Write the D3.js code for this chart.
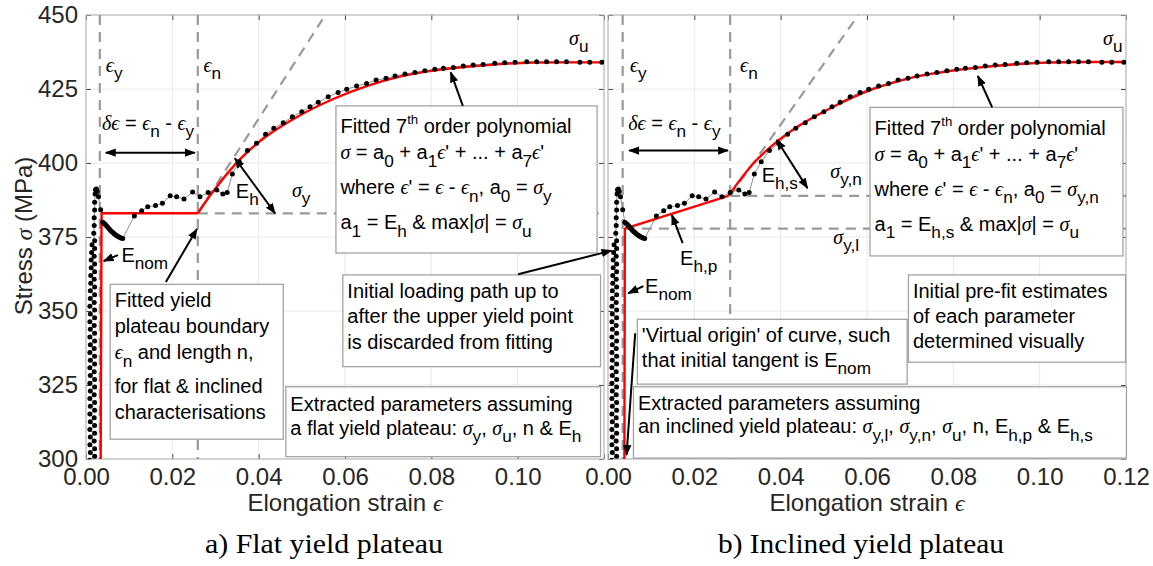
<!DOCTYPE html>
<html><head><meta charset="utf-8">
<script src="https://cdn.jsdelivr.net/npm/d3@7"></script>
<style>
body{margin:0;background:#fff}
svg{display:block}
</style></head><body>
<svg id="chart" width="1153" height="566" font-family='"Liberation Sans",Arial,sans-serif'></svg>
<script>
// ---------- data ----------
const yTicks = [300, 325, 350, 375, 400, 425, 450];
const xTicks = [0, 0.02, 0.04, 0.06, 0.08, 0.10, 0.12];

// initial elastic loading (extensometer readings)
const loadStrain = [0.0009,0.0020,0.0010,0.0020,0.0009,0.0019,0.0010,0.0020,0.0009,0.0020,
  0.0010,0.0019,0.0009,0.0020,0.0010,0.0020,0.0009,0.0019,0.0010,0.0020,
  0.0009,0.0020,0.0010,0.0019,0.0009,0.0020,0.0010,0.0020,0.0009,0.0019,
  0.0010,0.0020,0.0009,0.0020,0.0010,0.0019,0.0009,0.0020,0.0010,0.0020,
  0.0009,0.0019,0.0010,0.0020,0.0010,0.0020,0.0011,0.0019,0.0011,0.0020,
  0.0012,0.0020,0.0012,0.0019,0.0013,0.0020,0.0014,0.0020,
  0.0018,0.0019,0.0019,0.0020,0.0020];
const loadStress = [299.6,300.9,302.2,303.5,304.8,306.1,307.4,308.7,310.0,311.3,
  312.6,313.9,315.2,316.5,317.8,319.1,320.4,321.7,323.0,324.3,
  325.6,326.9,328.2,329.5,330.8,332.1,333.4,334.7,336.0,337.3,
  338.6,339.9,341.2,342.5,343.8,345.1,346.4,347.7,349.0,350.3,
  351.6,352.9,354.2,355.5,356.8,358.1,359.4,360.7,362.0,363.3,
  364.6,365.9,367.2,368.5,369.8,371.1,372.4,373.7,
  376.3,378.9,381.5,384.1,386.7];

// upper yield point, plateau and strain hardening
const testStrain = [0.0021,0.0022,0.0024,0.0026,0.0029,0.0034,0.0039,0.0042,0.0045,0.0048,
  0.0051,0.0054,0.0057,0.0060,0.0063,0.0066,0.0069,0.0072,0.0075,0.0078,
  0.0081,0.0085,0.0112,0.0129,0.0143,0.0161,0.0177,0.0195,0.0210,0.0227,
  0.0247,0.0264,0.0283,0.0303,0.0317,0.0327,0.0339,0.0355,0.0374,0.0395,
  0.0416,0.0435,0.0457,0.0478,0.0500,0.0519,0.0538,0.0561,0.0584,0.0604,
  0.0627,0.0650,0.0672,0.0695,0.0716,0.0739,0.0762,0.0785,0.0808,0.0828,
  0.0851,0.0874,0.0897,0.0920,0.0947,0.0970,0.0994,0.1021,0.1044,0.1067,
  0.1090,0.1113,0.1144,0.1167,0.1195];
const testStress = [389.5,391.0,391.2,390.4,388.6,384.2,380.0,379.6,379.2,378.7,
  378.2,377.7,377.2,376.8,376.4,376.0,375.7,375.4,375.1,374.9,
  374.7,374.5,382.1,383.9,385.2,385.6,386.4,388.9,388.6,387.8,
  390.2,388.6,390.0,390.9,389.5,390.0,396.3,400.4,404.2,406.7,
  409.7,411.7,413.6,415.6,417.3,419.0,420.5,422.4,423.8,424.9,
  426.0,426.9,428.0,428.6,429.4,430.1,430.6,431.2,431.7,432.0,
  432.3,432.8,433.1,433.3,433.7,433.9,434.0,434.2,434.2,434.2,
  434.2,434.2,434.0,434.0,434.0];

// fitted curve, flat yield plateau (first three points: elastic + plateau)
const flatFitStrain = [0.0034,0.0036,0.0259,0.0280,0.0303,0.0334,0.0357,0.0400,0.0480,
  0.0574,0.0650,0.0727,0.0804,0.0882,0.0959,0.1036,0.1113,0.1200];
const flatFitStress = [299.0,383.0,383.0,387.5,392.0,397.6,401.3,407.0,414.8,
  421.7,426.0,429.2,431.2,432.5,433.4,433.9,434.0,434.0];

// fitted curve, inclined yield plateau
const inclFitStrain = [0.0038,0.0039,0.0279,0.0306,0.0337,0.0383,0.0445,0.0522,0.0600,0.0677,
  0.0708,0.0785,0.0863,0.0940,0.1017,0.1094,0.1200];
const inclFitStress = [299.0,377.8,388.9,394.3,399.9,406.2,412.8,419.0,424.2,427.8,
  429.0,430.9,432.3,433.3,433.9,434.1,434.1];

// characterisation parameters
const flatEpsY = 0.0032, flatEpsN = 0.0259, flatSigY = 383.0;
const flatTangentStrain = [0.0259, 0.0548], flatTangentStress = [383.0, 448.5];
const inclEpsY = 0.0034, inclEpsN = 0.0283, inclSigYL = 377.8, inclSigYN = 388.9;
const inclTangentStrain = [0.0283, 0.0580], inclTangentStress = [388.9, 450.0];

// ---------- layout ----------
const SANS = '"Liberation Sans",Arial,sans-serif';
const SERIF = '"Liberation Serif","Times New Roman",serif';
const frame = {top: 15, bottom: 459};
const panelX = [[86, 604], [608, 1126]];
const svg = d3.select('#chart');
const y = d3.scaleLinear().domain([300, 450]).range([frame.bottom, frame.top]);
const xScales = panelX.map(r => d3.scaleLinear().domain([0, 0.12]).range(r));

const defs = svg.append('defs');
defs.append('marker').attr('id', 'ah').attr('viewBox', '0 0 10 10')
  .attr('refX', 9).attr('refY', 5).attr('markerWidth', 11).attr('markerHeight', 11)
  .attr('markerUnits', 'userSpaceOnUse').attr('orient', 'auto-start-reverse')
  .append('path').attr('d', 'M0,1.2L10,5L0,8.8z').attr('fill', '#000');

const GREEK = /([σϵδ])/;
function richText(g, x, yy, str, opt = {}) {
  const fs = opt.size || 20;
  const t = g.append('text').attr('x', x).attr('y', yy).style('font-size', fs + 'px')
    .style('font-family', SANS)
    .attr('fill', opt.fill || '#000').attr('text-anchor', opt.anchor || 'start')
    .style('white-space', 'pre');
  const segs = []; let buf = '', i = 0;
  while (i < str.length) {
    const c = str[i];
    if ((c === '_' || c === '^') && str[i + 1] === '{') {
      if (buf) { segs.push({s: buf, m: 'n'}); buf = ''; }
      const j = str.indexOf('}', i);
      segs.push({s: str.slice(i + 2, j), m: c === '_' ? 'sub' : 'sup'});
      i = j + 1;
    } else { buf += c; i++; }
  }
  if (buf) segs.push({s: buf, m: 'n'});
  let cur = 0;
  segs.forEach(seg => {
    const off = seg.m === 'sub' ? fs * 0.36 : seg.m === 'sup' ? -fs * 0.45 : 0;
    const size = seg.m === 'sub' ? fs * 0.86 : seg.m === 'sup' ? fs * 0.66 : fs;
    seg.s.split(GREEK).filter(p => p.length).forEach((p, k) => {
      const ts = t.append('tspan').text(p).style('font-size', size + 'px');
      if (k === 0 && off !== cur) { ts.attr('dy', off - cur); cur = off; }
      if (GREEK.test(p)) ts.style('font-family', SERIF).style('font-style', 'italic');
    });
  });
  return t;
}

function arrow(g, x1, y1, x2, y2, both) {
  const l = g.append('line').attr('x1', x1).attr('y1', y1).attr('x2', x2).attr('y2', y2)
    .attr('stroke', '#000').attr('stroke-width', 2).attr('marker-end', 'url(#ah)');
  if (both) l.attr('marker-start', 'url(#ah)');
}

function noteBox(g, xs, e0, e1, s0, s1, lines, offsets) {
  const bx = xs(e0), by = y(s0);
  g.append('rect').attr('x', bx).attr('y', by).attr('width', xs(e1) - bx).attr('height', y(s1) - by)
    .attr('fill', '#fff').attr('stroke', '#a3a3a3').attr('stroke-width', 1.3);
  lines.forEach((ln, k) => richText(g, bx + 4.5, by + offsets[k], ln));
}

const dash = {stroke: '#9a9a9a', width: 2.2, array: '10,7'};
function dashed(g, x1, y1, x2, y2) {
  g.append('line').attr('x1', x1).attr('y1', y1).attr('x2', x2).attr('y2', y2)
    .attr('stroke', dash.stroke).attr('stroke-width', dash.width).attr('stroke-dasharray', dash.array);
}

const testPoints = loadStrain.map((e, k) => [e, loadStress[k]])
  .concat(testStrain.map((e, k) => [e, testStress[k]]));

function drawPanel(idx) {
  const xs = xScales[idx];
  const [x0, x1] = panelX[idx];
  const g = svg.append('g');
  // grid
  g.selectAll('.gx').data(xTicks.slice(1, -1)).join('line')
    .attr('x1', d => xs(d)).attr('x2', d => xs(d)).attr('y1', frame.top).attr('y2', frame.bottom)
    .attr('stroke', '#e8e8e8').attr('stroke-width', 1);
  g.selectAll('.gy').data(yTicks.slice(1, -1)).join('line')
    .attr('x1', x0).attr('x2', x1).attr('y1', d => y(d)).attr('y2', d => y(d))
    .attr('stroke', '#e8e8e8').attr('stroke-width', 1);

  // axes with inward ticks on all four sides
  const styleAxis = a => {
    a.select('.domain').remove();
    a.selectAll('.tick line').attr('stroke', '#4a4a4a');
    a.selectAll('text').attr('fill', '#262626').style('font-size', '24px').style('font-family', SANS);
  };
  g.append('g').attr('transform', `translate(0,${frame.bottom})`)
    .call(d3.axisBottom(xs).tickValues(xTicks).tickSize(-5).tickPadding(9)
      .tickFormat(d => (idx === 0 && d === 0.12) ? '' : d3.format('.2f')(d)))
    .call(styleAxis);
  g.append('g').attr('transform', `translate(0,${frame.top})`)
    .call(d3.axisTop(xs).tickValues(xTicks).tickSize(-5).tickFormat('')).call(styleAxis);
  g.append('g').attr('transform', `translate(${x0},0)`)
    .call(d3.axisLeft(y).tickValues(yTicks).tickSize(-5).tickPadding(8)
      .tickFormat(idx === 0 ? d3.format('d') : '')).call(styleAxis);
  g.append('g').attr('transform', `translate(${x1},0)`)
    .call(d3.axisRight(y).tickValues(yTicks).tickSize(-5).tickFormat('')).call(styleAxis);
  g.append('rect').attr('x', x0).attr('y', frame.top).attr('width', x1 - x0)
    .attr('height', frame.bottom - frame.top).attr('fill', 'none')
    .attr('stroke', '#b5b5b5').attr('stroke-width', 1.2);

  // clipped plot content
  const cid = 'clip' + idx;
  defs.append('clipPath').attr('id', cid).append('rect')
    .attr('x', x0).attr('y', frame.top).attr('width', x1 - x0).attr('height', frame.bottom - frame.top);
  const pg = g.append('g').attr('clip-path', `url(#${cid})`);
  return {g, pg, xs};
}

function drawData(p, fitStrain, fitStress) {
  const {pg, xs} = p;
  const line = d3.line().x(d => xs(d[0])).y(d => y(d[1]));
  pg.append('path').attr('d', line(testPoints)).attr('fill', 'none')
    .attr('stroke', '#8f8f8f').attr('stroke-width', 1);
  const fit = fitStrain.map((e, k) => [e, fitStress[k]]);
  pg.append('path').attr('d', line(fit.slice(0, 3))).attr('fill', 'none')
    .attr('stroke', '#ff0000').attr('stroke-width', 2.4).attr('stroke-linejoin', 'round');
  pg.append('path').attr('d', line.curve(d3.curveMonotoneX)(fit.slice(2))).attr('fill', 'none')
    .attr('stroke', '#ff0000').attr('stroke-width', 2.4);
  pg.selectAll('circle').data(testPoints).join('circle')
    .attr('cx', d => xs(d[0])).attr('cy', d => y(d[1])).attr('r', 2.5).attr('fill', '#000');
}

// ---------- a) flat yield plateau ----------
const A = drawPanel(0);
{
  const {pg, xs} = A;
  dashed(pg, xs(flatEpsY), y(450), xs(flatEpsY), y(300));
  dashed(pg, xs(flatEpsN), y(450), xs(flatEpsN), y(300));
  dashed(pg, xs(flatEpsN), y(flatSigY), xs(0.12), y(flatSigY));
  dashed(pg, xs(flatTangentStrain[0]), y(flatTangentStress[0]), xs(flatTangentStrain[1]), y(flatTangentStress[1]));
  drawData(A, flatFitStrain, flatFitStress);
}
// ---------- b) inclined yield plateau ----------
const B = drawPanel(1);
{
  const {pg, xs} = B;
  dashed(pg, xs(inclEpsY), y(450), xs(inclEpsY), y(300));
  dashed(pg, xs(inclEpsN), y(450), xs(inclEpsN), y(300));
  dashed(pg, xs(inclFitStrain[1]), y(inclSigYL), xs(0.12), y(inclSigYL));
  dashed(pg, xs(inclEpsN), y(inclSigYN), xs(0.12), y(inclSigYN));
  dashed(pg, xs(inclTangentStrain[0]), y(inclTangentStress[0]), xs(inclTangentStrain[1]), y(inclTangentStress[1]));
  drawData(B, inclFitStrain, inclFitStress);
}

// ---------- annotations ----------
const ann = svg.append('g');
{
  const xs = xScales[0];
  richText(ann, xs(0.0046), y(430.7), 'ϵ_{y}');
  richText(ann, xs(0.0272), y(430.7), 'ϵ_{n}');
  richText(ann, xs(0.0037), y(411.3), 'δϵ = ϵ_{n} - ϵ_{y}');
  arrow(ann, xs(0.0046), y(403.5), xs(0.0252), y(403.5), true);
  richText(ann, xs(0.0347), y(388.2), 'E_{h}');
  arrow(ann, xs(0.0438), y(383.0), xs(0.0345), y(401.6), true);
  richText(ann, xs(0.0477), y(388.5), 'σ_{y}');
  richText(ann, xs(0.1119), y(439.9), 'σ_{u}');
  richText(ann, xs(0.0082), y(366.7), 'E_{nom}');
  arrow(ann, xs(0.0074), y(368.9), xs(0.0041), y(366.9));
  noteBox(ann, xs, 0.0579, 0.1184, 419.3, 369.6, [
    'Fitted 7^{th} order polynomial',
    'σ = a_{0} + a_{1}ϵ\' + ... + a_{7}ϵ\'',
    'where ϵ\' = ϵ - ϵ_{n}, a_{0} = σ_{y}',
    'a_{1} = E_{h} & max|σ| = σ_{u}'], [27.5, 53.5, 88.5, 123.5]);
  arrow(ann, xs(0.0873), y(419.3), xs(0.0845), y(430.6));
  noteBox(ann, xs, 0.0056, 0.0457, 359.0, 306.7, [
    'Fitted yield', 'plateau boundary', 'ϵ_{n} and length n,',
    'for flat & inclined', 'characterisations'], [23, 49, 75, 109, 135]);
  arrow(ann, xs(0.0185), y(359.8), xs(0.0257), y(377.7));
  noteBox(ann, xs, 0.0463, 0.1192, 324.4, 300.8, [
    'Extracted parameters assuming',
    'a flat yield plateau: σ_{y}, σ_{u}, n & E_{h}'], [24.5, 48]);
  noteBox(ann, xs, 0.0595, 0.1192, 362.2, 331.2, [
    'Initial loading path up to', 'after the upper yield point',
    'is discarded from fitting'], [23, 48, 74]);
  arrow(ann, xs(0.1001), y(362.4), xScales[1](0.0008), y(370.4));
}
{
  const xs = xScales[1];
  richText(ann, xs(0.0051), y(430.7), 'ϵ_{y}');
  richText(ann, xs(0.0306), y(430.7), 'ϵ_{n}');
  richText(ann, xs(0.0047), y(411.3), 'δϵ = ϵ_{n} - ϵ_{y}');
  arrow(ann, xs(0.0049), y(404.2), xs(0.0278), y(404.2), true);
  richText(ann, xs(0.0356), y(393.7), 'E_{h,s}');
  arrow(ann, xs(0.0462), y(391.5), xs(0.0391), y(407.8), true);
  richText(ann, xs(0.0515), y(394.9), 'σ_{y,n}');
  richText(ann, xs(0.0522), y(372.6), 'σ_{y,l}');
  richText(ann, xs(0.0167), y(365.5), 'E_{h,p}');
  arrow(ann, xs(0.0173), y(372.9), xs(0.0148), y(382.4));
  richText(ann, xs(0.0086), y(356.1), 'E_{nom}');
  arrow(ann, xs(0.0082), y(358.4), xs(0.0047), y(356.0));
  richText(ann, xs(0.1147), y(439.9), 'σ_{u}');
  noteBox(ann, xs, 0.0607, 0.1193, 418.8, 368.6, [
    'Fitted 7^{th} order polynomial',
    'σ = a_{0} + a_{1}ϵ\' + ... + a_{7}ϵ\'',
    'where ϵ\' = ϵ - ϵ_{n}, a_{0} = σ_{y,n}',
    'a_{1} = E_{h,s} & max|σ| = σ_{u}'], [28, 53.5, 88.5, 123.5]);
  arrow(ann, xs(0.0890), y(418.8), xs(0.0857), y(429.4));
  noteBox(ann, xs, 0.0068, 0.0693, 347.2, 325.3, [
    '\'Virtual origin\' of curve, such', 'that initial tangent is E_{nom}'], [22.4, 48]);
  arrow(ann, xs(0.0063), y(342.5), xs(0.0043), y(301.4));
  noteBox(ann, xs, 0.0059, 0.1201, 324.4, 300.3, [
    'Extracted parameters assuming',
    'an inclined yield plateau: σ_{y,l}, σ_{y,n}, σ_{u}, n, E_{h,p} & E_{h,s}'], [23.3, 46.6]);
  noteBox(ann, xs, 0.0696, 0.1199, 362.2, 332.7, [
    'Initial pre-fit estimates', 'of each parameter', 'determined visually'], [23.3, 48.3, 73.3]);
}

// ---------- axis titles and captions ----------
const yt = svg.append('g').attr('transform', 'translate(32,236) rotate(-90)');
richText(yt, 0, 0, 'Stress σ (MPa)', {size: 24, anchor: 'middle', fill: '#262626'});
xScales.forEach(xs => {
  richText(svg, (xs.range()[0] + xs.range()[1]) / 2, 511, 'Elongation strain ϵ', {size: 24, anchor: 'middle', fill: '#262626'});
});
const captions = [
  {text: 'a) Flat yield plateau', cx: 324, width: 238},
  {text: 'b) Inclined yield plateau', cx: 861, width: 286}
];
captions.forEach(c => {
  svg.append('text').attr('x', c.cx - c.width / 2).attr('y', 553)
    .attr('textLength', c.width).attr('lengthAdjust', 'spacingAndGlyphs')
    .style('font-family', SERIF).style('font-size', '27px').text(c.text);
});
</script>
</body></html>
